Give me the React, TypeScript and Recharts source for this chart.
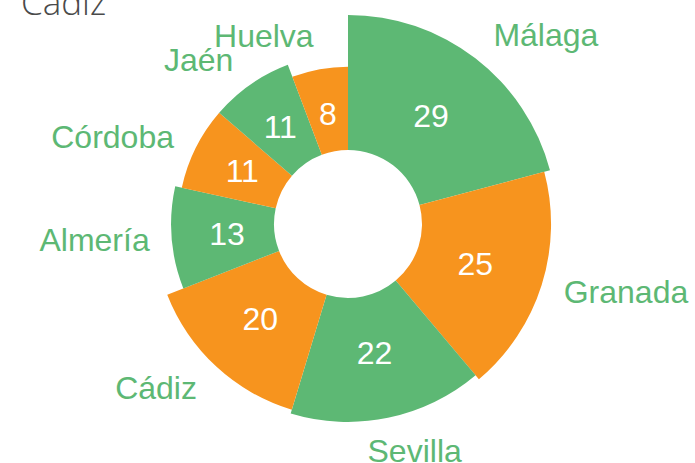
import React from 'react';
import { PieChart, Pie, Cell } from 'recharts';

// Provincias de Andalucía
const cities = ['Málaga', 'Granada', 'Sevilla', 'Cádiz', 'Almería', 'Córdoba', 'Jaén', 'Huelva'];
const values = [29, 25, 22, 20, 13, 11, 11, 8];
const title = 'Cádiz';

const GREEN = '#5db874';
const ORANGE = '#f7941e';
const sliceColors = [GREEN, ORANGE];

const W = 695;
const H = 463;
const CX = 348;
const CY = 224;
const INNER = 74;
const OUTER_MAX = 209;
const FS = 32;
const FONT = '"Liberation Sans", Arial, Helvetica, sans-serif';

const data = cities.map((name, i) => ({ name, value: values[i] }));

// escala logarítmica para el radio exterior
const maxValue = Math.max(...values);
const radiusScale = (v: number) =>
  INNER + ((OUTER_MAX - INNER) * Math.log(v)) / Math.log(maxValue);

const RAD = Math.PI / 180;

const renderLabel = (only: number) => (props: any) => {
  const { index, midAngle, innerRadius, outerRadius, value, name } = props;
  if (index !== only) return null;
  const theta = 90 - midAngle; // grados desde arriba, sentido horario
  const s = Math.sin(theta * RAD);
  const c = Math.cos(theta * RAD);

  const rv = innerRadius + (outerRadius - innerRadius) * 0.46;
  const vx = CX + rv * s;
  const vy = CY - rv * c;

  const rn = outerRadius + 22 + 12 * c * c;
  const nx = CX + rn * s;
  const ny = CY - rn * c;
  const t = ((theta % 360) + 360) % 360;
  const anchor = t < 150 ? 'start' : t <= 180 ? 'middle' : 'end';
  // etiquetas centradas: empujar la caja hacia fuera
  const dx = anchor === 'middle' ? s * String(name).length * 0.55 * FS * 0.8 : 0;

  return (
    <g>
      <text x={vx} y={vy} dy="0.35em" textAnchor="middle" fill="#ffffff" fontSize={FS} fontFamily={FONT}>
        {value}
      </text>
      <text x={nx + dx} y={ny} dy="0.35em" textAnchor={anchor} fill={GREEN} fontSize={FS} fontFamily={FONT}>
        {name}
      </text>
    </g>
  );
};

export default function App() {
  return (
    <div style={{ position: 'absolute', left: 0, top: 0, width: W, height: H, background: '#fff' }}>
      <PieChart width={W} height={H} margin={{ top: 0, right: 0, bottom: 0, left: 0 }}>
        {values.map((v, i) => (
          <Pie
            key={cities[i]}
            data={data}
            dataKey="value"
            nameKey="name"
            cx={CX}
            cy={CY}
            innerRadius={INNER}
            outerRadius={radiusScale(v)}
            startAngle={90}
            endAngle={-270}
            stroke="none"
            label={renderLabel(i)}
            labelLine={false}
            isAnimationActive={false}
          >
            {data.map((d, j) => (
              <Cell
                key={`cell-${d.name}`}
                fill={j === i ? sliceColors[j % 2] : 'transparent'}
              />
            ))}
          </Pie>
        ))}
      </PieChart>
      <svg width={200} height={40} style={{ position: 'absolute', left: 0, top: 0 }}>
        <text x={21} y={15} fill="#4a4a4a" fontSize={35} fontWeight={300} fontFamily='"Open Sans", sans-serif'>
          {title}
        </text>
      </svg>
    </div>
  );
}
